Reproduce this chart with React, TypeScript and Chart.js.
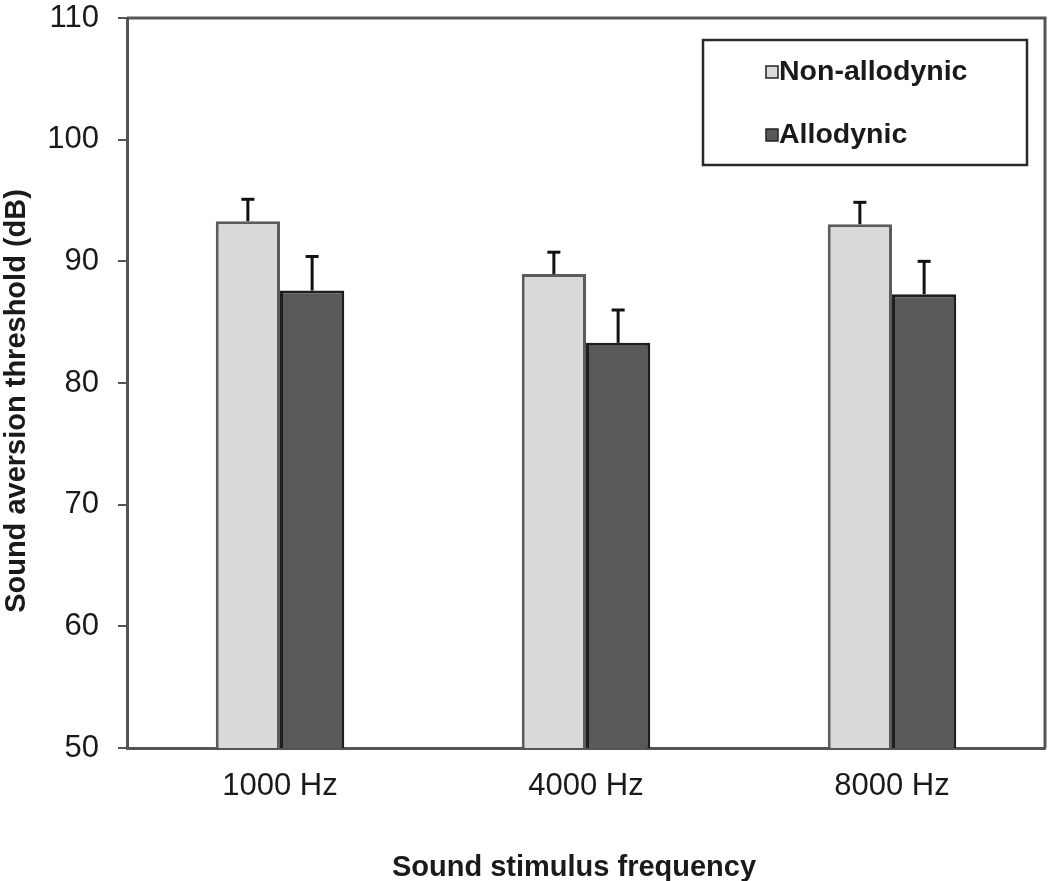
import React, { useEffect, useRef } from "react";
import { Chart, registerables } from "chart.js";

Chart.register(...registerables);

const categories = ["1000 Hz", "4000 Hz", "8000 Hz"];
const seriesNames = ["Non-allodynic", "Allodynic"];
const nonAllodynic = [93.3, 88.95, 93.05];
const nonAllodynicErr = [1.8, 1.8, 1.8];
const allodynic = [87.6, 83.3, 87.3];
const allodynicErr = [2.8, 2.7, 2.7];
const yTicks = [50, 60, 70, 80, 90, 100, 110];
const xTitle = "Sound stimulus frequency";
const yTitle = "Sound aversion threshold (dB)";

const FONT = "'Liberation Sans', Arial, Helvetica, sans-serif";
const AXIS = "#555555";
const TEXT = "#1a1a1a";

const errorBarPlugin = {
  id: "errorBars",
  afterDatasetsDraw(chart: any) {
    const ctx = chart.ctx;
    const yScale = chart.scales.y;
    chart.data.datasets.forEach((ds: any, di: number) => {
      const meta = chart.getDatasetMeta(di);
      meta.data.forEach((bar: any, i: number) => {
        const topY = yScale.getPixelForValue(ds.data[i] + ds.errors[i]);
        ctx.save();
        ctx.strokeStyle = "#111111";
        ctx.lineWidth = 3;
        ctx.beginPath();
        ctx.moveTo(bar.x, bar.y);
        ctx.lineTo(bar.x, topY);
        ctx.stroke();
        ctx.beginPath();
        ctx.moveTo(bar.x - 6.5, topY);
        ctx.lineTo(bar.x + 6.5, topY);
        ctx.stroke();
        ctx.restore();
      });
    });
  },
};

const framePlugin = {
  id: "frame",
  afterDatasetsDraw(chart: any) {
    const { left, right, top, bottom } = chart.chartArea;
    const ctx = chart.ctx;
    ctx.save();
    ctx.strokeStyle = AXIS;
    ctx.lineWidth = 3;
    ctx.beginPath();
    ctx.moveTo(left, top);
    ctx.lineTo(right, top);
    ctx.lineTo(right, bottom);
    ctx.stroke();
    ctx.restore();
  },
};

const titlesPlugin = {
  id: "axisTitles",
  afterDraw(chart: any) {
    const { left, right, top, bottom } = chart.chartArea;
    const ctx = chart.ctx;
    ctx.save();
    ctx.fillStyle = TEXT;
    ctx.textAlign = "center";
    ctx.textBaseline = "middle";
    ctx.font = `bold 29px ${FONT}`;
    ctx.fillText(xTitle, (left + right) / 2 - 12, bottom + 120);
    ctx.translate(17, (top + bottom) / 2 + 18);
    ctx.rotate(-Math.PI / 2);
    ctx.fillText(yTitle, 0, 0);
    ctx.restore();
  },
};

const boxLegendPlugin = {
  id: "boxLegend",
  afterDraw(chart: any) {
    const { right, top } = chart.chartArea;
    const ctx = chart.ctx;
    const bw = 324;
    const bh = 125;
    const bx = right - 342;
    const by = top + 22;
    ctx.save();
    ctx.strokeStyle = "#2a2a2a";
    ctx.lineWidth = 2.5;
    ctx.strokeRect(bx, by, bw, bh);
    chart.data.datasets.forEach((ds: any, i: number) => {
      const cy = by + 32 + i * 63;
      ctx.fillStyle = ds.backgroundColor;
      ctx.fillRect(bx + 63, cy - 6, 12, 12);
      ctx.strokeStyle = "#222222";
      ctx.lineWidth = 1.5;
      ctx.strokeRect(bx + 63, cy - 6, 12, 12);
      ctx.fillStyle = TEXT;
      ctx.font = `bold 28.5px ${FONT}`;
      ctx.textAlign = "left";
      ctx.textBaseline = "middle";
      ctx.fillText(ds.label, bx + 76, cy);
    });
    ctx.restore();
  },
};

export default function App() {
  const ref = useRef<HTMLCanvasElement | null>(null);

  useEffect(() => {
    if (!ref.current) return;
    const chart = new Chart(ref.current, {
      type: "bar",
      data: {
        labels: categories,
        datasets: [
          {
            label: seriesNames[0],
            data: nonAllodynic,
            errors: nonAllodynicErr,
            backgroundColor: "#d9d9d9",
            borderColor: "#5c5c5c",
            borderWidth: 3,
            categoryPercentage: 0.42,
            barPercentage: 1.0,
          } as any,
          {
            label: seriesNames[1],
            data: allodynic,
            errors: allodynicErr,
            backgroundColor: "#595959",
            borderColor: "#1e1e1e",
            borderWidth: 3,
            categoryPercentage: 0.42,
            barPercentage: 1.0,
          } as any,
        ],
      },
      options: {
        responsive: false,
        animation: false,
        devicePixelRatio: 1,
        layout: { padding: { top: 18, right: 5, left: 1, bottom: 0 } },
        plugins: {
          legend: { display: false },
          tooltip: { enabled: false },
        },
        scales: {
          x: {
            grid: { display: false, drawTicks: false },
            border: { display: true, color: AXIS, width: 3 },
            ticks: {
              color: TEXT,
              font: { family: FONT, size: 31 },
              padding: 20,
              maxRotation: 0,
            },
            afterFit(scale: any) {
              scale.height = 133;
              scale.paddingLeft = 0;
              scale.paddingRight = 0;
            },
          },
          y: {
            min: 50,
            max: 110,
            grid: {
              display: true,
              drawOnChartArea: false,
              drawTicks: true,
              tickLength: 9,
              color: AXIS,
              lineWidth: 2,
            },
            border: { display: true, color: AXIS, width: 3 },
            ticks: {
              color: TEXT,
              font: { family: FONT, size: 31, lineHeight: 1.16 },
              padding: 19,
              stepSize: 10,
            },
            afterBuildTicks(scale: any) {
              scale.ticks = yTicks.map((v) => ({ value: v }));
            },
            afterFit(scale: any) {
              scale.width = 126;
              scale.paddingTop = 0;
              scale.paddingBottom = 0;
            },
          },
        },
      } as any,
      plugins: [errorBarPlugin, framePlugin, titlesPlugin, boxLegendPlugin],
    });
    return () => chart.destroy();
  }, []);

  return (
    <div style={{ position: "absolute", left: 0, top: 0, width: 1050, height: 881, background: "#ffffff" }}>
      <canvas ref={ref} width={1050} height={881} />
    </div>
  );
}
